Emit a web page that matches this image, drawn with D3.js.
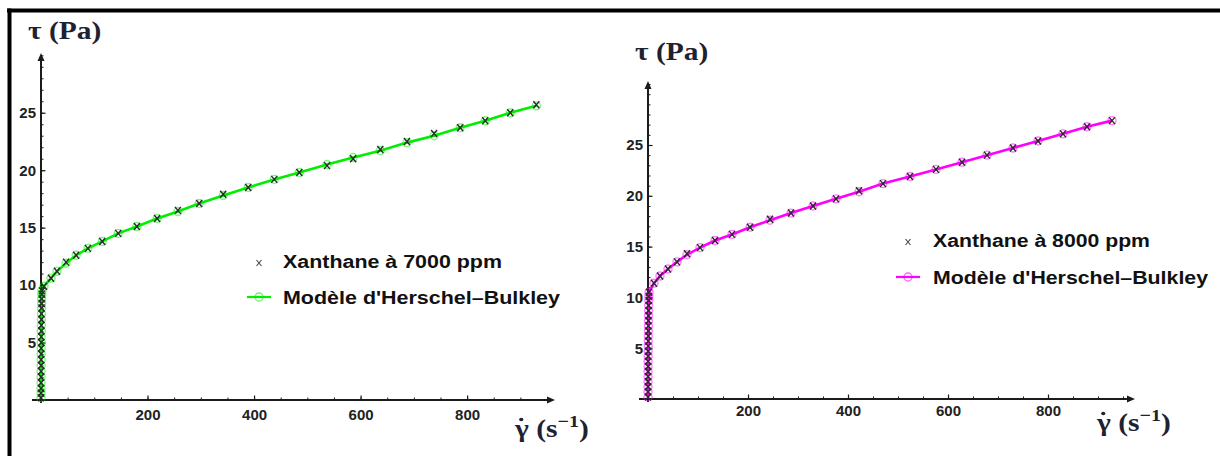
<!DOCTYPE html>
<html><head><meta charset="utf-8">
<script src="https://cdn.jsdelivr.net/npm/d3@7"></script>
<style>body{margin:0;background:#fff}svg{display:block}</style>
</head><body>
<svg id="c" width="1220" height="456"></svg>
<script>
// ---------- data ----------
const ticksY = [5, 10, 15, 20, 25];
const ticksX = [200, 400, 600, 800];

const gamma7000 = [0.02,0.04,0.06,0.09,0.12,0.16,0.2,0.25,0.3,0.36,0.43,0.5,0.58,0.67,0.77,0.88,1.0,1.15,1.3,1.5,1.75,
  5.6,18.8,30,47,66,88,115,145,180,218,257,297,342,389,438,485,537,586,637,687,738,787,834,881,930];
const tau7000 = [0.2,0.6,1.0,1.5,2.0,2.5,3.0,3.5,4.0,4.5,5.0,5.5,6.0,6.5,7.0,7.5,8.0,8.4,8.8,9.2,9.5,
  9.9,10.6,11.2,12.0,12.6,13.2,13.8,14.5,15.1,15.8,16.5,17.1,17.9,18.5,19.2,19.8,20.4,21.0,21.8,22.5,23.2,23.7,24.3,25.0,25.7];
const model7000 = [0.2,0.6,1.0,1.5,2.0,2.5,3.0,3.5,4.0,4.5,5.0,5.5,6.0,6.5,7.0,7.5,8.0,8.4,8.8,9.2,9.5,
  9.9,10.6,11.2,11.9,12.6,13.2,13.8,14.5,15.1,15.8,16.4,17.1,17.8,18.5,19.2,19.8,20.5,21.1,21.7,22.4,23.0,23.7,24.3,25.0,25.6];

const gamma8000 = [0.02,0.04,0.06,0.09,0.12,0.16,0.2,0.25,0.3,0.36,0.43,0.5,0.58,0.67,0.77,0.88,1.0,1.15,1.3,1.5,1.75,2.0,
  12,24,40,58,78,104,134,168,204,244,286,330,376,422,470,524,576,628,678,730,780,830,878,928];
const tau8000 = [0.2,0.7,1.2,1.7,2.2,2.7,3.2,3.7,4.2,4.7,5.2,5.7,6.2,6.7,7.2,7.7,8.2,8.7,9.2,9.7,10.1,10.5,
  11.4,12.1,12.8,13.5,14.3,14.9,15.6,16.2,16.9,17.7,18.3,19.0,19.7,20.5,21.2,21.9,22.6,23.3,24.0,24.7,25.4,26.1,26.8,27.4];
const model8000 = [0.2,0.7,1.2,1.7,2.2,2.7,3.2,3.7,4.2,4.7,5.2,5.7,6.2,6.7,7.2,7.7,8.2,8.7,9.2,9.7,10.1,10.5,
  11.4,12.1,12.8,13.5,14.2,14.9,15.6,16.2,16.9,17.6,18.3,19.0,19.7,20.4,21.2,21.9,22.6,23.3,24.0,24.7,25.4,26.1,26.8,27.4];

const legend7000 = ["Xanthane à 7000 ppm", "Modèle d'Herschel\u2013Bulkley"];
const legend8000 = ["Xanthane à 8000 ppm", "Modèle d'Herschel\u2013Bulkley"];

// ---------- drawing ----------
const svg = d3.select("#c");
const AX = "#1b1b1b";
const SANS = "'Liberation Sans', Arial, sans-serif";
const SERIF = "'Liberation Serif', 'Times New Roman', serif";

// frame (top and left borders)
svg.append("line").attr("x1", 7).attr("x2", 1220).attr("y1", 10.5).attr("y2", 10.5)
  .attr("stroke", "#000").attr("stroke-width", 4);
svg.append("line").attr("x1", 9.5).attr("x2", 9.5).attr("y1", 8.5).attr("y2", 456)
  .attr("stroke", "#000").attr("stroke-width", 4);

function panel(o) {
  const x = d3.scaleLinear().domain([0, o.xMax]).range([o.x0, o.x1]);
  const y = d3.scaleLinear().domain([0, o.yMax]).range([o.y0, o.y1]);
  const g = svg.append("g");

  // minor ticks
  g.append("g").attr("transform", `translate(0,${o.y0})`)
    .call(d3.axisBottom(x).tickValues(d3.range(50, o.xMax, 50)).tickFormat("").tickSizeInner(-2.5).tickSizeOuter(0))
    .call(s => s.select(".domain").remove())
    .selectAll("line").attr("stroke", AX).attr("stroke-width", 1);
  g.append("g").attr("transform", `translate(${o.x0},0)`)
    .call(d3.axisLeft(y).tickValues(d3.range(1, Math.floor(o.yMax) + 1)).tickFormat("").tickSizeInner(-2.5).tickSizeOuter(0))
    .call(s => s.select(".domain").remove())
    .selectAll("line").attr("stroke", AX).attr("stroke-width", 1);

  // major ticks + labels
  const xa = g.append("g").attr("transform", `translate(0,${o.y0})`)
    .call(d3.axisBottom(x).tickValues(ticksX).tickSizeInner(-4.5).tickSizeOuter(0).tickPadding(o.xPad))
    .call(s => s.select(".domain").remove());
  xa.selectAll("line").attr("stroke", AX).attr("stroke-width", 1.2);
  xa.selectAll("text").attr("font-family", SANS).attr("font-weight", "bold")
    .attr("font-size", 15).attr("fill", "#222");
  const ya = g.append("g").attr("transform", `translate(${o.x0},0)`)
    .call(d3.axisLeft(y).tickValues(ticksY).tickSizeInner(-4.5).tickSizeOuter(0).tickPadding(5))
    .call(s => s.select(".domain").remove());
  ya.selectAll("line").attr("stroke", AX).attr("stroke-width", 1.2);
  ya.selectAll("text").attr("font-family", SANS).attr("font-weight", "bold")
    .attr("font-size", 15).attr("fill", "#222");

  // axis lines with arrows
  g.append("line").attr("x1", o.x0 - 9).attr("x2", o.x1 - 5).attr("y1", o.y0).attr("y2", o.y0)
    .attr("stroke", AX).attr("stroke-width", 2);
  g.append("path").attr("d", `M${o.x1},${o.y0} l-8,-3.5 l0,7 z`).attr("fill", AX);
  g.append("line").attr("x1", o.x0).attr("x2", o.x0).attr("y1", o.y0 + 3).attr("y2", o.y1 + 5)
    .attr("stroke", AX).attr("stroke-width", 2);
  g.append("path").attr("d", `M${o.x0},${o.y1} l-3.5,8 l7,0 z`).attr("fill", AX);

  // model line + circles
  const pts = o.gamma.map((v, i) => [v, o.model[i]]);
  g.append("path").datum(pts)
    .attr("d", d3.line().x(d => x(d[0])).y(d => y(d[1])))
    .attr("fill", "none").attr("stroke", o.color).attr("stroke-width", 2.6);
  g.selectAll(".mc").data(pts).join("circle")
    .attr("cx", d => x(d[0])).attr("cy", d => y(d[1])).attr("r", 4)
    .attr("fill", "none").attr("stroke", o.color).attr("stroke-opacity", 0.5).attr("stroke-width", 1.4);

  // data crosses
  const dp = o.gamma.map((v, i) => [v, o.tau[i]]);
  g.selectAll(".xm").data(dp).join("path")
    .attr("d", d => { const cx = x(d[0]), cy = y(d[1]); return `M${cx-3},${cy-3.5}L${cx+3},${cy+3.5}M${cx-3},${cy+3.5}L${cx+3},${cy-3.5}`; })
    .attr("stroke", "#2a2a2a").attr("stroke-width", 1.4);

  // axis titles
  g.append("text").attr("transform", `translate(${o.tauX},${o.tauY}) scale(1.18,1)`)
    .attr("font-family", SERIF).attr("font-weight", "bold").attr("font-size", 25).attr("fill", "#1e2230")
    .text("τ (Pa)");
  const tx = g.append("g").attr("transform", `translate(${o.gamX},${o.gamY}) scale(1.18,1)`);
  const t2 = tx.append("text").attr("font-family", SERIF).attr("font-weight", "bold")
    .attr("font-size", 25).attr("fill", "#1e2230");
  t2.append("tspan").text("γ (s");
  t2.append("tspan").attr("dy", -10).attr("font-size", 17).text("\u22121");
  t2.append("tspan").attr("dy", 10).text(")");
  // overdot of gamma
  tx.append("circle").attr("cx", 5.3).attr("cy", -17.5).attr("r", 1.8).attr("fill", "#1e2230");

  // legend
  const lg = g.append("g");
  lg.append("path").attr("d", `M${o.lx - 2.5},${o.ly1 - 8}l5,6m-5,0l5,-6`)
    .attr("stroke", "#444").attr("stroke-width", 1.1);
  lg.append("text").attr("x", o.tx).attr("y", o.ly1).attr("font-family", SANS).attr("font-weight", "bold")
    .attr("font-size", 18).attr("fill", "#111").attr("textLength", o.w1).attr("lengthAdjust", "spacingAndGlyphs")
    .text(o.legend[0]);
  lg.append("line").attr("x1", o.lx - 12).attr("x2", o.lx + 12).attr("y1", o.ly2 - 7).attr("y2", o.ly2 - 7)
    .attr("stroke", o.color).attr("stroke-width", 2.2);
  lg.append("circle").attr("cx", o.lx).attr("cy", o.ly2 - 7).attr("r", 4)
    .attr("fill", "none").attr("stroke", o.color).attr("stroke-opacity", 0.6).attr("stroke-width", 1.3);
  lg.append("text").attr("x", o.tx).attr("y", o.ly2).attr("font-family", SANS).attr("font-weight", "bold")
    .attr("font-size", 18).attr("fill", "#111").attr("textLength", o.w2).attr("lengthAdjust", "spacingAndGlyphs")
    .text(o.legend[1]);
}

panel({
  gamma: gamma7000, tau: tau7000, model: model7000, color: "#00ee00", legend: legend7000,
  xMax: 965, yMax: 30.2, x0: 41, x1: 555, y0: 400, y1: 53, xPad: 9,
  tauX: 28, tauY: 39, gamX: 515, gamY: 437,
  lx: 259, tx: 283, ly1: 268, ly2: 304, w1: 219, w2: 277
});
panel({
  gamma: gamma8000, tau: tau8000, model: model8000, color: "#ff00ff", legend: legend8000,
  xMax: 974, yMax: 31.3, x0: 648, x1: 1135, y0: 399, y1: 81, xPad: 6,
  tauX: 635, tauY: 60, gamX: 1097, gamY: 431,
  lx: 908, tx: 933, ly1: 247, ly2: 284, w1: 217, w2: 275
});
</script>
</body></html>
